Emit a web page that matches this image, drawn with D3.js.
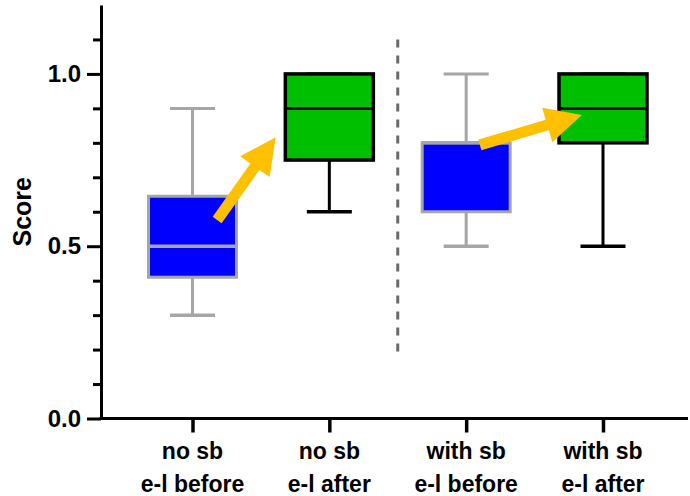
<!DOCTYPE html>
<meta charset="utf-8">
<style>
    body { margin: 0; background: #fff; }
    text {
        font-family: "Liberation Sans", Arial, sans-serif;
        font-weight: bold;
        fill: #000;
    }
    .tick-label { font-size: 24px; }
    .cat-label { font-size: 23px; }
    .axis-title { font-size: 25px; }
</style>
<svg width="690" height="496"></svg>
<script src="https://d3js.org/d3.v7.min.js"></script>
<script>
    // Categories and their two-line labels
    const categories = ["noSbBefore", "noSbAfter", "withSbBefore", "withSbAfter"];
    const labelLine1 = ["no sb", "no sb", "with sb", "with sb"];
    const labelLine2 = ["e-l before", "e-l after", "e-l before", "e-l after"];
    const phase = ["before", "after", "before", "after"];

    // Box plot values
    const whiskerLow = [0.3, 0.6, 0.5, 0.5];
    const q1 = [0.41, 0.75, 0.6, 0.8];
    const median = [0.5, 0.9, 0.8, 0.9];
    const q3 = [0.645, 1.0, 0.8, 1.0];
    const whiskerHigh = [0.9, 1.0, 1.0, 1.0];

    // Y axis ticks
    const majorTicks = [0, 0.5, 1.0];
    const majorTickLabels = ["0.0", "0.5", "1.0"];
    const minorTicks = [0.1, 0.2, 0.3, 0.4, 0.6, 0.7, 0.8, 0.9, 1.1];

    // Arrows: [category position, score]
    const arrowFrom = [[0.18, 0.576], [2.10, 0.794]];
    const arrowTo = [[0.608, 0.816], [2.845, 0.881]];

    // Dashed divider between the two groups
    const dividerPos = 1.5;
    const dividerRange = [0.19, 1.1];

    const svg = d3.select("svg");
    const axisX = 101, axisRight = 688;

    const x = d3.scalePoint().domain(categories).range([192.5, 603]);
    const y = d3.scaleLinear().domain([0, 1.2]).range([418.5, 5]);
    const xi = i => x(categories[0]) + i * x.step();

    const fill = d3.scaleOrdinal().domain(["before", "after"]).range(["#0000ff", "#00bf00"]);
    const edge = d3.scaleOrdinal().domain(["before", "after"]).range(["#a6a6a6", "#000"]);

    const boxW = 88, capW = 45;

    // Y axis
    const yAxis = svg.append("g")
        .attr("transform", `translate(${axisX},0)`)
        .call(d3.axisLeft(y).tickValues(majorTicks).tickSize(14).tickSizeOuter(0)
            .tickPadding(6).tickFormat((d, i) => majorTickLabels[i]));
    yAxis.selectAll("path, line").attr("stroke", "#000").attr("stroke-width", 3);
    yAxis.selectAll("text").attr("class", "tick-label").attr("fill", "#000").attr("font-size", null);

    const yMinor = svg.append("g")
        .attr("transform", `translate(${axisX},0)`)
        .call(d3.axisLeft(y).tickValues(minorTicks).tickSize(8).tickFormat(""));
    yMinor.select(".domain").remove();
    yMinor.selectAll("line").attr("stroke", "#000").attr("stroke-width", 3);

    // X axis
    const xAxis = svg.append("g")
        .attr("transform", `translate(0,${y(0)})`)
        .call(d3.axisBottom(x).tickSize(14).tickSizeOuter(0).tickFormat(""));
    xAxis.select(".domain").remove();
    xAxis.selectAll("line").attr("stroke", "#000").attr("stroke-width", 3.5);
    svg.append("line")
        .attr("x1", axisX - 1.5).attr("x2", axisRight)
        .attr("y1", y(0)).attr("y2", y(0))
        .attr("stroke", "#000").attr("stroke-width", 3);

    const labels = svg.append("g").selectAll("text")
        .data(categories)
        .join("text")
        .attr("class", "cat-label")
        .attr("text-anchor", "middle")
        .attr("x", d => x(d))
        .attr("y", y(0) + 40.5);
    labels.append("tspan").attr("x", d => x(d)).text((d, i) => labelLine1[i]);
    labels.append("tspan").attr("x", d => x(d)).attr("dy", 33).text((d, i) => labelLine2[i]);

    // Axis title
    svg.append("text")
        .attr("class", "axis-title")
        .attr("text-anchor", "middle")
        .attr("transform", `translate(31,${(y(0) + y(1.2)) / 2}) rotate(-90)`)
        .text("Score");

    // Divider
    svg.append("line")
        .attr("x1", xi(dividerPos)).attr("x2", xi(dividerPos))
        .attr("y1", y(dividerRange[1])).attr("y2", y(dividerRange[0]))
        .attr("stroke", "#6b6b6b").attr("stroke-width", 3)
        .attr("stroke-dasharray", "8,8");

    // Boxes
    const boxes = svg.append("g").selectAll("g")
        .data(categories)
        .join("g")
        .attr("transform", d => `translate(${x(d)},0)`);

    boxes.append("line")
        .attr("y1", (d, i) => y(whiskerHigh[i])).attr("y2", (d, i) => y(whiskerLow[i]))
        .attr("stroke", (d, i) => edge(phase[i])).attr("stroke-width", 3);
    boxes.append("line")
        .attr("x1", -capW / 2).attr("x2", capW / 2)
        .attr("y1", (d, i) => y(whiskerHigh[i])).attr("y2", (d, i) => y(whiskerHigh[i]))
        .attr("stroke", (d, i) => edge(phase[i])).attr("stroke-width", 3);
    boxes.append("line")
        .attr("x1", -capW / 2).attr("x2", capW / 2)
        .attr("y1", (d, i) => y(whiskerLow[i])).attr("y2", (d, i) => y(whiskerLow[i]))
        .attr("stroke", (d, i) => edge(phase[i])).attr("stroke-width", 3.5);
    boxes.append("rect")
        .attr("x", -boxW / 2).attr("width", boxW)
        .attr("y", (d, i) => y(q3[i]))
        .attr("height", (d, i) => y(q1[i]) - y(q3[i]))
        .attr("fill", (d, i) => fill(phase[i]))
        .attr("stroke", (d, i) => edge(phase[i]))
        .attr("stroke-width", (d, i) => phase[i] === "after" ? 3.5 : 3);
    boxes.append("line")
        .attr("x1", -boxW / 2).attr("x2", boxW / 2)
        .attr("y1", (d, i) => y(median[i])).attr("y2", (d, i) => y(median[i]))
        .attr("stroke", (d, i) => edge(phase[i]))
        .attr("stroke-width", (d, i) => phase[i] === "after" ? 2.5 : 3.5);

    // Arrows
    const headLen = 36, headHalf = 18, shaftHalf = 5.5;
    arrowFrom.forEach((from, k) => {
        const to = arrowTo[k];
        const x0 = xi(from[0]), y0 = y(from[1]);
        const x1 = xi(to[0]), y1 = y(to[1]);
        const len = Math.hypot(x1 - x0, y1 - y0);
        const ux = (x1 - x0) / len, uy = (y1 - y0) / len;
        const px = -uy, py = ux;
        const bx = x1 - ux * headLen, by = y1 - uy * headLen;
        const pts = [
            [x0 + px * shaftHalf, y0 + py * shaftHalf],
            [bx + px * shaftHalf, by + py * shaftHalf],
            [bx + px * headHalf, by + py * headHalf],
            [x1, y1],
            [bx - px * headHalf, by - py * headHalf],
            [bx - px * shaftHalf, by - py * shaftHalf],
            [x0 - px * shaftHalf, y0 - py * shaftHalf]
        ];
        svg.append("path")
            .attr("d", d3.line()(pts) + "Z")
            .attr("fill", "#ffc000");
    });
</script>
